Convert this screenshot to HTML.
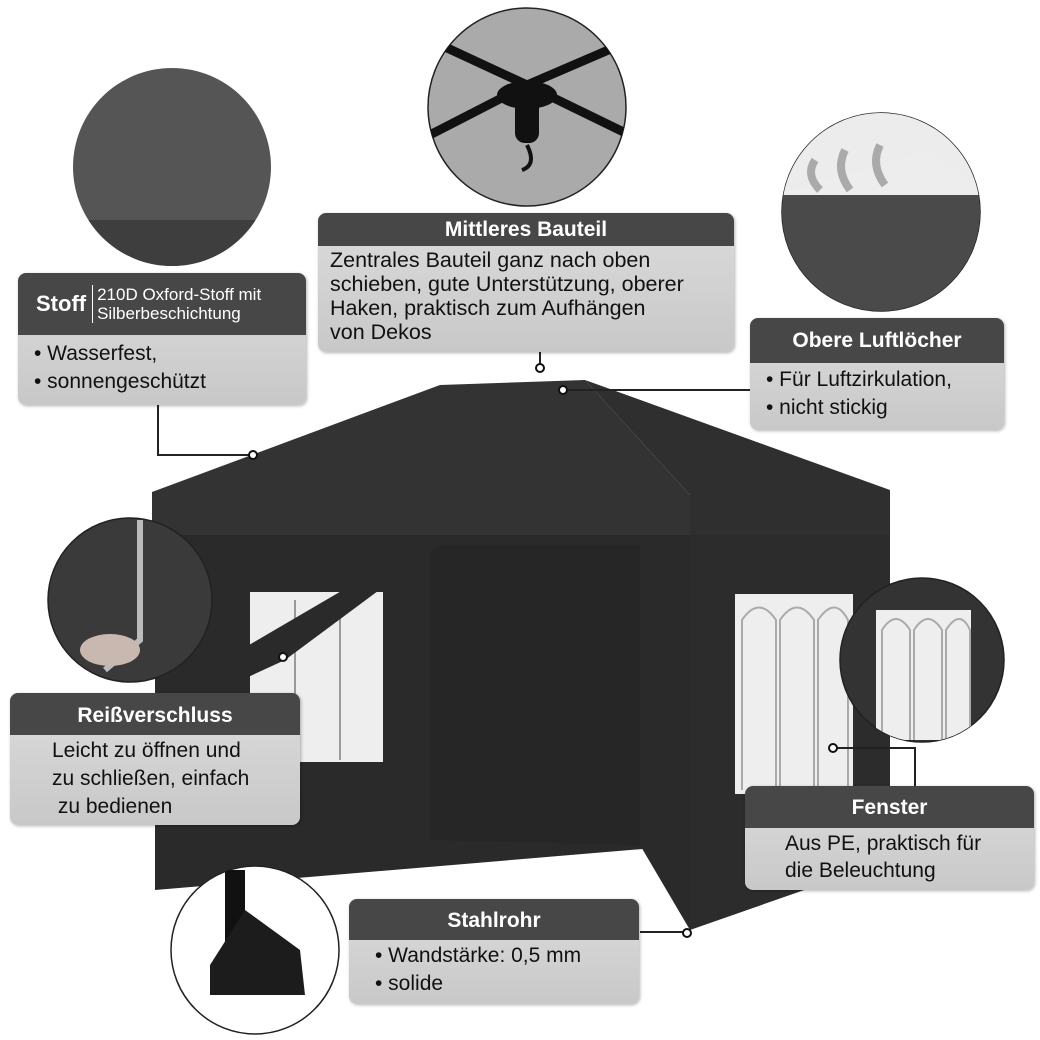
<!DOCTYPE html>
<html><head><meta charset="utf-8"><style>
body{margin:0;background:#fff;width:1040px;height:1040px;overflow:hidden;position:relative;font-family:"Liberation Sans",sans-serif}
.box{position:absolute;background:linear-gradient(#dcdcdc,#c8c8c8);border-radius:8px;overflow:hidden;box-shadow:1px 1px 3px rgba(0,0,0,.3)}
.hd{background:#474747;color:#fff;font-weight:bold;font-size:21px;text-align:center}
.bd{color:#111;font-size:21px;line-height:25px}
</style></head><body>
<svg width="1040" height="1040" style="position:absolute;left:0;top:0">
<defs>
<clipPath id="c1"><circle cx="172" cy="167" r="99"/></clipPath>
<clipPath id="c2"><circle cx="527" cy="107" r="99"/></clipPath>
<clipPath id="c3"><circle cx="881" cy="212" r="99"/></clipPath>
<clipPath id="c4"><circle cx="130" cy="600" r="82"/></clipPath>
<clipPath id="c5"><circle cx="922" cy="660" r="82"/></clipPath>
<clipPath id="c6"><circle cx="255" cy="950" r="84"/></clipPath>
</defs>
<polygon points="152,492 440,385 585,380 690,495 690,535 152,535" fill="#333"/>
<polygon points="585,380 890,490 890,535 690,535 690,495" fill="#2f2f2f"/>
<polygon points="155,535 690,535 690,845 155,890" fill="#2a2a2a"/>
<polygon points="430,545 640,545 640,845 430,840" fill="#262626"/>
<polygon points="690,535 890,535 890,860 690,930" fill="#2c2c2c"/>
<polygon points="640,845 690,845 690,930" fill="#2a2a2a"/>
<rect x="250" y="592" width="133" height="170" fill="#eee"/>
<g stroke="#999" stroke-width="2"><line x1="295" y1="600" x2="295" y2="760"/><line x1="340" y1="600" x2="340" y2="760"/></g>
<polygon points="155,700 420,545 440,545 285,660 155,720" fill="#2a2a2a"/>
<rect x="735" y="594" width="118" height="200" fill="#eee"/>
<g stroke="#aaa" stroke-width="2" fill="none"><path d="M742 790V620q17-25 34 0V790M780 790V620q17-25 34 0V790M818 790V620q17-25 30 0V790"/></g>
<circle cx="172" cy="167" r="99" fill="#555"/>
<rect x="70" y="220" width="220" height="50" fill="#3e3e3e" clip-path="url(#c1)"/>
<circle cx="527" cy="107" r="99" fill="#aaa" stroke="#222" stroke-width="1.5"/>
<g clip-path="url(#c2)" stroke="#111" stroke-width="9"><line x1="527" y1="85" x2="420" y2="140"/><line x1="527" y1="85" x2="640" y2="140"/><line x1="527" y1="85" x2="430" y2="40"/><line x1="527" y1="85" x2="620" y2="45"/></g>
<ellipse cx="527" cy="95" rx="30" ry="14" fill="#111"/><rect x="515" y="95" width="24" height="48" rx="10" fill="#111"/>
<path d="M527 145q10 20-5 25" stroke="#111" stroke-width="4" fill="none"/>
<circle cx="881" cy="212" r="99" fill="#444" stroke="#222" stroke-width="1.5"/>
<polygon points="760,200 930,150 990,200 990,320 760,320" fill="#4a4a4a" clip-path="url(#c3)"/>
<rect x="770" y="100" width="230" height="95" fill="#fff" clip-path="url(#c3)" opacity=".9"/>
<path d="M815 160q-10 15 5 30M845 150q-10 20 5 40M880 145q-10 20 5 40" stroke="#aaa" stroke-width="8" fill="none"/>
<circle cx="130" cy="600" r="82" fill="#3a3a3a" stroke="#222" stroke-width="1.5"/>
<path d="M140 520 L140 640 L105 670" stroke="#bbb" stroke-width="6" fill="none" clip-path="url(#c4)"/>
<ellipse cx="110" cy="650" rx="30" ry="16" fill="#c9b8b0" clip-path="url(#c4)"/>
<circle cx="922" cy="660" r="82" fill="#333" stroke="#222" stroke-width="1.5"/>
<rect x="876" y="610" width="95" height="130" fill="#eee" clip-path="url(#c5)"/>
<g stroke="#aaa" stroke-width="2" fill="none" clip-path="url(#c5)"><path d="M882 740V630q14-22 28 0V740M914 740V630q14-22 28 0V740M946 740V630q14-22 24 0V740"/></g>
<circle cx="255" cy="950" r="84" fill="#fff" stroke="#222" stroke-width="1.5"/>
<rect x="225" y="870" width="20" height="120" fill="#111" clip-path="url(#c6)"/>
<polygon points="245,910 300,950 305,995 210,995 210,965" fill="#1c1c1c" clip-path="url(#c6)"/>
<g stroke="#222" stroke-width="2" fill="none">
<polyline points="158,405 158,455 253,455"/>
<line x1="540" y1="352" x2="540" y2="368"/>
<line x1="563" y1="390" x2="750" y2="390"/>
<polyline points="833,748 915,748 915,786"/>
<polyline points="640,932 687,932"/>
</g>
<g fill="#fff" stroke="#111" stroke-width="2">
<circle cx="253" cy="455" r="4"/><circle cx="540" cy="368" r="4"/><circle cx="563" cy="390" r="4"/><circle cx="283" cy="657" r="4"/><circle cx="833" cy="748" r="4"/><circle cx="687" cy="933" r="4"/>
</g>
</svg>

<div class="box" style="left:18px;top:273px;width:288px;height:132px">
<div class="hd" style="height:62px;display:flex;align-items:center;text-align:left;padding-left:18px"><span style="font-size:22px">Stoff</span><span style="font-weight:normal;font-size:17px;line-height:19px;border-left:1px solid #fff;margin-left:6px;padding-left:4px">210D Oxford-Stoff mit<br>Silberbeschichtung</span></div>
<div class="bd" style="padding:5px 0 0 16px;line-height:28px">• Wasserfest,<br>• sonnengeschützt</div></div>

<div class="box" style="left:318px;top:213px;width:416px;height:139px">
<div class="hd" style="height:33px;line-height:33px">Mittleres Bauteil</div>
<div class="bd" style="padding:2px 0 0 12px;line-height:24px;font-size:21.5px">Zentrales Bauteil ganz nach oben<br>schieben, gute Unterstützung, oberer<br>Haken, praktisch zum Aufhängen<br>von Dekos</div></div>

<div class="box" style="left:750px;top:318px;width:254px;height:112px">
<div class="hd" style="height:45px;line-height:45px">Obere Luftlöcher</div>
<div class="bd" style="padding:3px 0 0 16px;line-height:28px">• Für Luftzirkulation,<br>• nicht stickig</div></div>

<div class="box" style="left:10px;top:693px;width:290px;height:132px">
<div class="hd" style="height:42px;line-height:46px">Reißverschluss</div>
<div class="bd" style="padding:2px 0 0 42px;line-height:28px">Leicht zu öffnen und<br>zu schließen, einfach<br>&nbsp;zu bedienen</div></div>

<div class="box" style="left:745px;top:786px;width:289px;height:104px">
<div class="hd" style="height:42px;line-height:44px">Fenster</div>
<div class="bd" style="padding:2px 0 0 40px;line-height:27px">Aus PE, praktisch für<br>die Beleuchtung</div></div>

<div class="box" style="left:349px;top:899px;width:290px;height:105px">
<div class="hd" style="height:41px;line-height:43px">Stahlrohr</div>
<div class="bd" style="padding:2px 0 0 26px;line-height:28px">• Wandstärke: 0,5 mm<br>• solide</div></div>
</body></html>
